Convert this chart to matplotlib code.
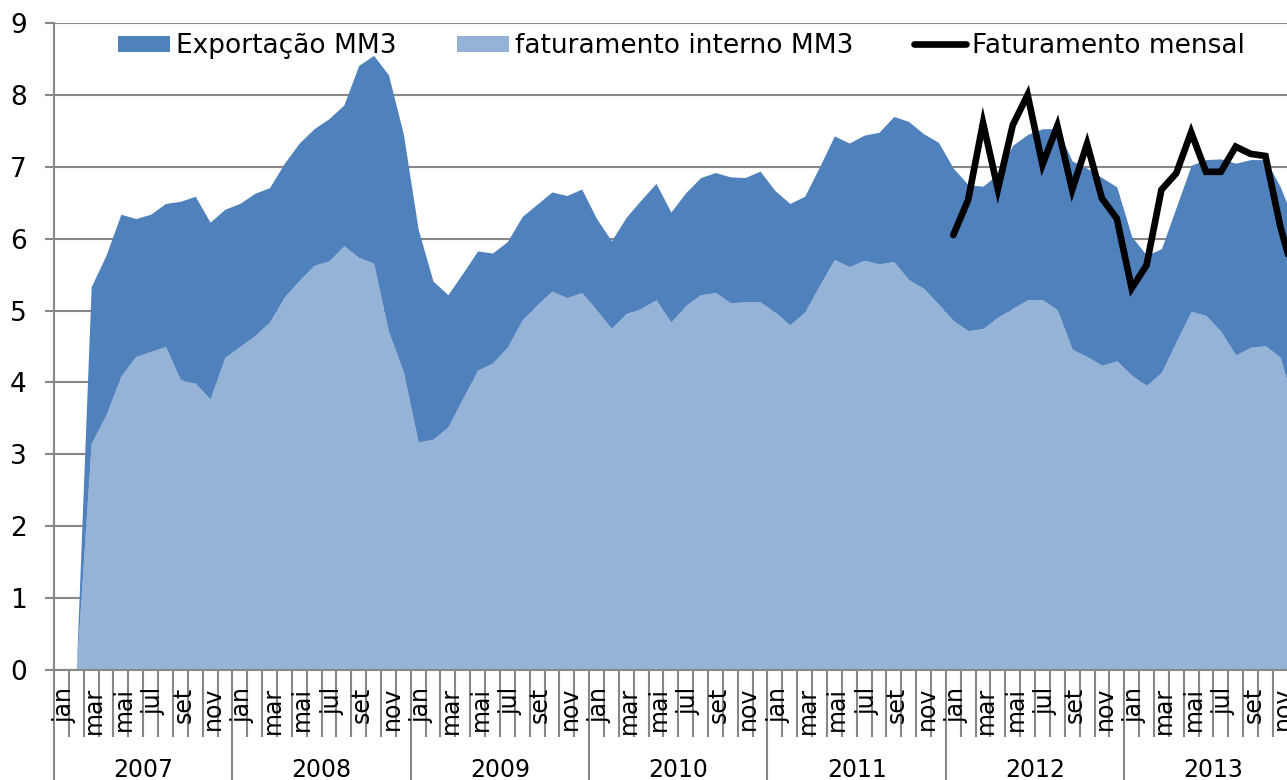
import numpy as np
import matplotlib
matplotlib.use("Agg")
import matplotlib.pyplot as plt

# monthly series, jan 2007 .. dez 2013
years = ["2007", "2008", "2009", "2010", "2011", "2012", "2013"]
months = ["jan", "fev", "mar", "abr", "mai", "jun",
          "jul", "ago", "set", "out", "nov", "dez"]
month_labels = ["jan", "", "mar", "", "mai", "", "jul", "", "set", "", "nov", ""]

interno = [
    0, 0, 3.15, 3.55, 4.09, 4.36, 4.43, 4.50, 4.04, 3.99, 3.77, 4.35,
    4.50, 4.65, 4.84, 5.19, 5.42, 5.63, 5.69, 5.90, 5.74, 5.66, 4.71, 4.15,
    3.17, 3.21, 3.38, 3.78, 4.17, 4.27, 4.49, 4.87, 5.08, 5.27, 5.18, 5.25,
    5.01, 4.75, 4.96, 5.03, 5.15, 4.84, 5.07, 5.22, 5.25, 5.11, 5.12, 5.12,
    4.98, 4.80, 4.98, 5.35, 5.71, 5.61, 5.70, 5.65, 5.68, 5.43, 5.31, 5.09,
    4.86, 4.72, 4.75, 4.91, 5.03, 5.15, 5.15, 5.01, 4.46, 4.36, 4.24, 4.30,
    4.10, 3.96, 4.14, 4.57, 4.99, 4.93, 4.71, 4.38, 4.49, 4.51, 4.35, 3.60,
]
exportacao = [
    0, 0, 2.18, 2.22, 2.25, 1.92, 1.91, 1.99, 2.48, 2.60, 2.46, 2.06,
    1.99, 1.98, 1.87, 1.86, 1.91, 1.90, 1.98, 1.96, 2.67, 2.89, 3.57, 3.31,
    2.96, 2.20, 1.84, 1.74, 1.66, 1.53, 1.47, 1.44, 1.40, 1.38, 1.42, 1.44,
    1.27, 1.22, 1.34, 1.51, 1.62, 1.53, 1.57, 1.63, 1.67, 1.75, 1.73, 1.82,
    1.69, 1.69, 1.61, 1.65, 1.72, 1.72, 1.74, 1.83, 2.02, 2.20, 2.15, 2.25,
    2.12, 2.03, 1.98, 1.99, 2.27, 2.30, 2.38, 2.52, 2.62, 2.62, 2.61, 2.42,
    1.93, 1.81, 1.72, 1.87, 2.03, 2.17, 2.40, 2.67, 2.61, 2.59, 2.37, 2.60,
]
# faturamento mensal only exists from jan 2012
mensal_start = 60
mensal = [6.05, 6.54, 7.61, 6.69, 7.58, 8.00, 7.03, 7.57, 6.68, 7.32, 6.56, 6.28,
          5.31, 5.63, 6.68, 6.91, 7.48, 6.93, 6.93, 7.28, 7.18, 7.15, 6.17, 5.42]

DARK = "#4F81BD"
LIGHT = "#95B3D7"
GRID = "#878787"

x = np.arange(len(interno))
xm = np.arange(mensal_start, mensal_start + len(mensal))
lo = np.array(interno)
hi = lo + np.array(exportacao)

fig = plt.figure(figsize=(12.87, 7.80), dpi=100)
ax = fig.add_axes([54 / 1287, 110 / 780, 1233 / 1287, 647 / 780])

ax.fill_between(x, 0, lo, color=LIGHT, lw=0, label="faturamento interno MM3")
ax.fill_between(x, lo, hi, color=DARK, lw=0, label="Exportação MM3")
ax.plot(xm, mensal, color="black", lw=4.8, solid_joinstyle="miter",
        solid_capstyle="round", label="Faturamento mensal")

ax.set_ylim(0, 9)
ax.set_yticks(range(10))
ax.grid(True, axis="y", color=GRID, lw=1.5)
ax.set_axisbelow(True)
for s in ("top", "right"):
    ax.spines[s].set_visible(False)
for s in ("left", "bottom"):
    ax.spines[s].set_color(GRID)
    ax.spines[s].set_linewidth(1.5)
ax.tick_params(axis="y", length=6.5, width=1.5, color=GRID, labelsize=19, pad=13)

# x axis: month ticks at boundaries, longer ticks at year boundaries
nyears = len(years)
ax.set_xticks([12 * j - 0.5 for j in range(nyears + 1)])
ax.set_xticks([k - 0.5 for k in range(12 * nyears)], minor=True)
ax.tick_params(axis="x", which="major", length=90, width=1.5, color=GRID,
               labelbottom=False)
ax.tick_params(axis="x", which="minor", length=48, width=1.5, color=GRID)
# chart is cropped on the right, just past nov 2013
ax.set_xlim(-0.5, 82.45)

tr = ax.get_xaxis_transform()
for j, yr in enumerate(years):
    for m, lab in enumerate(month_labels):
        if lab:
            ax.text(12 * j + m + 0.2, -0.026, lab, transform=tr, rotation=90,
                    ha="center", va="top", fontsize=17, clip_on=False)
    ax.text(12 * j + 5.5, -0.165, yr, transform=tr, ha="center",
            va="baseline", fontsize=17, clip_on=False)

h, l = ax.get_legend_handles_labels()
order = [1, 0, 2]
ax.legend([h[i] for i in order], [l[i] for i in order], loc="center left",
          bbox_to_anchor=(0.0519, 0.9645), ncol=3, frameon=False, fontsize=19,
          borderpad=0, borderaxespad=0, handlelength=1.97, handleheight=0.55,
          handletextpad=0.23, columnspacing=2.3)

fig.savefig("out.png", dpi=100)
